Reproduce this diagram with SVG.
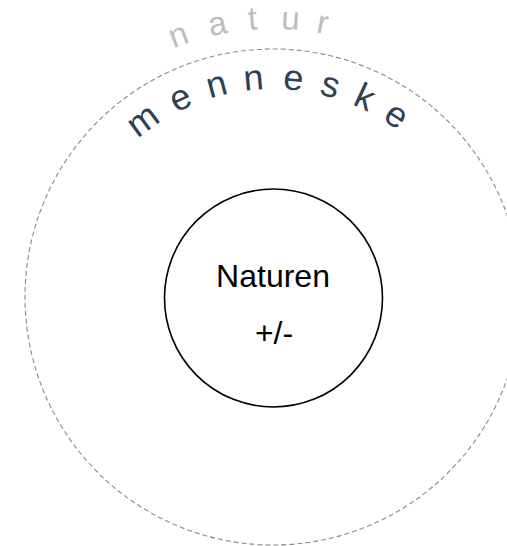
<svg xmlns="http://www.w3.org/2000/svg" width="507" height="546" viewBox="0 0 507 546">
  <style>
    .outer { fill: none; stroke: #8a8a8a; stroke-width: 1.1; stroke-dasharray: 5 3; }
    .inner { fill: #ffffff; stroke: #000000; stroke-width: 1.6; }
    .label { font-family: "Liberation Sans", Arial, sans-serif; font-size: 32px; fill: #000000; text-anchor: middle; }
    .natur { font-family: "Liberation Sans", Arial, sans-serif; font-size: 33px; fill: #bdbdbd; text-anchor: middle; }
    .menneske { font-family: "Liberation Sans", Arial, sans-serif; font-size: 36px; fill: #2f3f56; text-anchor: middle; }
  </style>
  <rect width="507" height="546" fill="#ffffff"/>
  <g id="natur-ring">
    <circle class="outer" cx="273" cy="297" r="248"/>
    <g id="natur-label">
      <text class="natur" x="273" y="29" transform="rotate(-19.9 273 297)">n</text>
      <text class="natur" x="273" y="29" transform="rotate(-11.5 273 297)">a</text>
      <text class="natur" x="273" y="29" transform="rotate(-4.2 273 297)">t</text>
      <text class="natur" x="273" y="29" transform="rotate(3.6 273 297)">u</text>
      <text class="natur" x="273" y="29" transform="rotate(10.3 273 297)">r</text>
    </g>
  </g>
  <g id="menneske-label">
    <text class="menneske" x="273" y="89" transform="rotate(-36.4 273 297)">m</text>
    <text class="menneske" x="273" y="89" transform="rotate(-25 273 297)">e</text>
    <text class="menneske" x="273" y="89" transform="rotate(-14.9 273 297)">n</text>
    <text class="menneske" x="273" y="89" transform="rotate(-5.1 273 297)">n</text>
    <text class="menneske" x="273" y="89" transform="rotate(5.4 273 297)">e</text>
    <text class="menneske" x="273" y="89" transform="rotate(15.2 273 297)">s</text>
    <text class="menneske" x="273" y="89" transform="rotate(24.7 273 297)">k</text>
    <text class="menneske" x="273" y="89" transform="rotate(34.2 273 297)">e</text>
  </g>
  <g id="naturen">
    <circle class="inner" cx="273.5" cy="298" r="109"/>
    <text class="label" x="273" y="286.5">Naturen</text>
    <text class="label" x="274" y="344">+/-</text>
  </g>
  <g id="connectors"/>
</svg>
